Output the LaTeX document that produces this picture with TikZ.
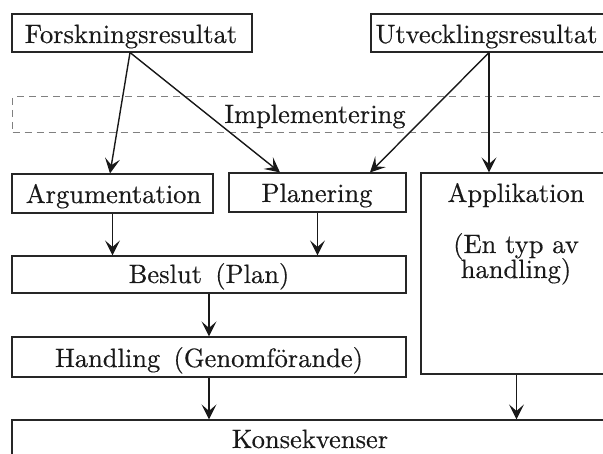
\documentclass[tikz,border=0pt]{standalone}
\usepackage{fontspec}
\setmainfont{lmroman10-regular.otf}[FakeBold=0.4]
\usetikzlibrary{arrows.meta,calc}
\begin{document}
\begin{tikzpicture}[x=1pt,y=-1pt,
  box/.style={draw=black!85, rectangle, inner sep=0pt, line width=1.1pt},
  dbox/.style={draw=black!50, rectangle, inner sep=0pt, line width=1pt, dash pattern=on 7pt off 5pt},
  lbl/.style={anchor=base, inner sep=0pt, text=black!90, font=\fontsize{26.5}{31}\selectfont},
  arr/.style={-{Stealth[length=15pt,width=15pt,inset=6.5pt]}, line width=1.4pt, draw=black!90}]
\useasboundingbox (0,0) rectangle (603,454);
\clip (0,0) rectangle (603,454);
\fill[white] (0,0) rectangle (603,454);
% boxes
\node[box, minimum width=240pt, minimum height=38pt] (forsk) at (132,33) {};
\node[box, minimum width=241pt, minimum height=38pt] (utv) at (491.5,33) {};
\node[dbox, minimum width=599.5pt, minimum height=36pt] (impl) at (312.25,115) {};
\node[box, minimum width=201pt, minimum height=39pt] (arg) at (112.5,193.5) {};
\node[box, minimum width=177pt, minimum height=39pt] (plan) at (317.5,192.5) {};
\node[box, minimum width=191pt, minimum height=201pt] (appl) at (516.5,273.5) {};
\node[box, minimum width=394pt, minimum height=37pt] (beslut) at (209,274.5) {};
\node[box, minimum width=394pt, minimum height=40pt] (handl) at (209,357) {};
\node[box, minimum width=600pt, minimum height=60pt] (kons) at (312,450) {};
% labels
\node[lbl] (tforsk) at (131,43) {Forskningsresultat};
\node[lbl] (tutv) at (486.5,43) {Utvecklingsresultat};
\node[lbl] (timpl) at (315,123) {Implementering};
\node[lbl] (targ) at (113.5,203) {Argumentation};
\node[lbl] (tplan) at (317,202) {Planering};
\node[lbl] (tappl) at (516,202) {Applikation};
\node[lbl] (ttyp1) at (516,253) {(En typ av};
\node[lbl] (ttyp2) at (516,278) {handling)};
\node[lbl] (tbeslut) at (209,283) {Beslut\hspace{0.5em}(Plan)};
\node[lbl] (thandl) at (209,367) {Handling\hspace{0.5em}(Genomförande)};
\node[lbl] (tkons) at (310,448) {Konsekvenser};
% connectors
\coordinate (f0) at ([xshift=-2pt]forsk.south);
\coordinate (u0) at ([xshift=-2.5pt]utv.south);
\draw[arr] (f0) -- ([xshift=-2.5pt]arg.north);
\draw[arr] (f0) -- ([xshift=-37.5pt]plan.north);
\draw[arr] (u0) -- ([xshift=52.5pt]plan.north);
\draw[arr] (u0) -- (u0 |- appl.north);
\draw[arr] (arg.south) -- (arg.south |- beslut.north);
\draw[arr] (plan.south) -- (plan.south |- beslut.north);
\draw[arr] (beslut.south) -- (handl.north);
\draw[arr] (handl.south) -- (handl.south |- kons.north);
\draw[arr] (appl.south) -- (appl.south |- kons.north);
\end{tikzpicture}
\end{document}
